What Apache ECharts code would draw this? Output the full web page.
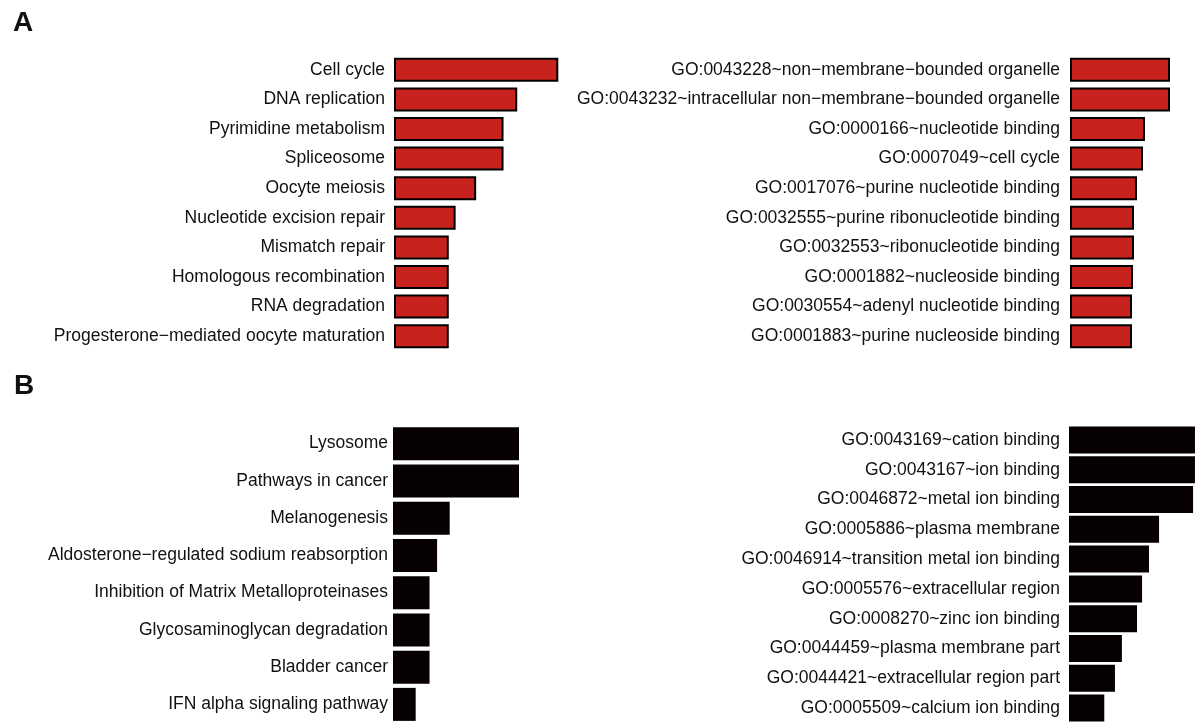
<!DOCTYPE html>
<html>
<head>
<meta charset="utf-8">
<script src="https://cdn.jsdelivr.net/npm/echarts@6/dist/echarts.min.js"></script>
<style>
  html, body { margin: 0; padding: 0; background: #fff; }
  #chart { width: 1200px; height: 723px; }
</style>
</head>
<body>
<div id="chart"></div>
<script>
// A: upregulated genes - KEGG pathways (left) and GO terms (right)
const keggUp = [
  "Cell cycle", "DNA replication", "Pyrimidine metabolism", "Spliceosome",
  "Oocyte meiosis", "Nucleotide excision repair", "Mismatch repair",
  "Homologous recombination", "RNA degradation",
  "Progesterone\u2212mediated oocyte maturation"
];
const keggUpValues = [12, 9, 8, 8, 6, 4.5, 4, 4, 4, 4];

const goUp = [
  "GO:0043228~non\u2212membrane\u2212bounded organelle",
  "GO:0043232~intracellular non\u2212membrane\u2212bounded organelle",
  "GO:0000166~nucleotide binding",
  "GO:0007049~cell cycle",
  "GO:0017076~purine nucleotide binding",
  "GO:0032555~purine ribonucleotide binding",
  "GO:0032553~ribonucleotide binding",
  "GO:0001882~nucleoside binding",
  "GO:0030554~adenyl nucleotide binding",
  "GO:0001883~purine nucleoside binding"
];
const goUpValues = [50, 50, 37.5, 36.5, 33.5, 32, 32, 31.5, 31, 31];

// B: downregulated genes
const keggDown = [
  "Lysosome", "Pathways in cancer", "Melanogenesis",
  "Aldosterone\u2212regulated sodium reabsorption",
  "Inhibition of Matrix Metalloproteinases",
  "Glycosaminoglycan degradation", "Bladder cancer",
  "IFN alpha signaling pathway"
];
const keggDownValues = [10, 10, 4.5, 3.5, 2.9, 2.9, 2.9, 1.8];

const goDown = [
  "GO:0043169~cation binding", "GO:0043167~ion binding",
  "GO:0046872~metal ion binding", "GO:0005886~plasma membrane",
  "GO:0046914~transition metal ion binding", "GO:0005576~extracellular region",
  "GO:0008270~zinc ion binding", "GO:0044459~plasma membrane part",
  "GO:0044421~extracellular region part", "GO:0005509~calcium ion binding"
];
const goDownValues = [10, 10, 9.85, 7.15, 6.35, 5.8, 5.4, 4.2, 3.65, 2.8];

const RED = "#c8221f";
const BLACK = "#070000";
const FONT = "'Liberation Sans', Arial, sans-serif";

const panels = [
  { cats: keggUp, vals: keggUpValues, grid: { left: 394, top: 55, width: 178, height: 296 }, max: 13, color: RED, border: 2, barWidth: 24, margin: 9 },
  { cats: goUp, vals: goUpValues, grid: { left: 1070, top: 55, width: 120, height: 296 }, max: 60, color: RED, border: 2, barWidth: 24, margin: 10 },
  { cats: keggDown, vals: keggDownValues, grid: { left: 393, top: 425, width: 138.6, height: 303 }, max: 11, color: BLACK, border: 0, barWidth: 33, margin: 5 },
  { cats: goDown, vals: goDownValues, grid: { left: 1069, top: 425, width: 131, height: 301 }, max: 10.4, color: BLACK, border: 0, barWidth: 27, margin: 9 }
];

const chart = echarts.init(document.getElementById("chart"), null, { renderer: "canvas" });

const option = {
  animation: false,
  backgroundColor: "#fff",
  textStyle: { fontFamily: FONT },
  title: [
    { text: "A", left: 8, top: 4, textStyle: { fontSize: 28, fontWeight: "bold", color: "#111", fontFamily: FONT } },
    { text: "B", left: 9, top: 367, textStyle: { fontSize: 28, fontWeight: "bold", color: "#111", fontFamily: FONT } }
  ],
  grid: panels.map(p => p.grid),
  xAxis: panels.map((p, i) => ({
    type: "value", gridIndex: i, min: 0, max: p.max, show: false
  })),
  yAxis: panels.map((p, i) => ({
    type: "category", gridIndex: i, data: p.cats, inverse: true,
    axisLine: { show: false }, axisTick: { show: false }, splitLine: { show: false },
    axisLabel: { color: "#111", fontSize: 17.5, fontFamily: FONT, margin: p.margin }
  })),
  series: panels.map((p, i) => ({
    type: "bar", xAxisIndex: i, yAxisIndex: i, data: p.vals,
    barWidth: p.barWidth,
    itemStyle: { color: p.color, borderColor: "#000", borderWidth: p.border }
  }))
};

chart.setOption(option);
</script>
</body>
</html>
